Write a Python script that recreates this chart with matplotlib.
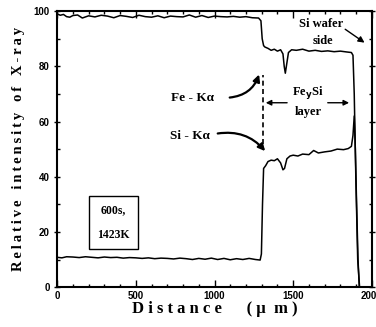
import matplotlib.pyplot as plt
from matplotlib.ticker import MultipleLocator

# Fe-Ka line profile
fe_dist = [0, 20, 40, 60, 80, 100, 130, 160, 200, 240, 280, 320, 360, 400, 440,
           480, 520, 560, 600, 640, 680, 720, 760, 800, 840, 880, 920, 960, 1000,
           1040, 1080, 1120, 1160, 1200, 1240, 1280, 1295, 1303, 1312, 1320, 1340,
           1360, 1380, 1400, 1420, 1435, 1443, 1450, 1458, 1470, 1490, 1520, 1560,
           1600, 1640, 1680, 1720, 1760, 1800, 1840, 1870, 1880, 1888, 1898, 1910,
           1922]
fe_val = [99.0, 98.5, 98.8, 98.0, 97.8, 98.4, 98.6, 97.5, 98.3, 97.9, 98.5, 98.2,
          97.6, 98.4, 98.1, 97.7, 98.5, 98.0, 97.8, 98.3, 97.6, 98.2, 98.0, 97.9,
          98.6, 97.8, 98.4, 97.7, 98.2, 98.0, 97.9, 98.1, 97.8, 98.0, 97.6, 97.5,
          96.5, 90.0, 87.5, 87.0, 86.5, 85.8, 86.2, 85.5, 86.0, 84.5, 80.0, 77.5,
          80.5, 85.0, 86.0, 85.8, 86.2, 85.5, 85.8, 85.4, 85.6, 85.3, 85.5, 85.2,
          85.0, 84.0, 70.0, 40.0, 10.0, 0.0]

# Si-Ka line profile
si_dist = [0, 30, 60, 100, 140, 180, 220, 260, 300, 340, 380, 420, 460, 500, 540,
           580, 620, 660, 700, 740, 780, 820, 860, 900, 940, 980, 1020, 1060, 1100,
           1140, 1180, 1220, 1260, 1290, 1298, 1305, 1312, 1325, 1340, 1360, 1380,
           1400, 1420, 1435, 1445, 1460, 1480, 1500, 1530, 1560, 1600, 1630, 1660,
           1700, 1740, 1780, 1820, 1850, 1870, 1880, 1888, 1895, 1903, 1912, 1920]
si_val = [10.8, 10.6, 11.0, 10.9, 10.7, 11.0, 10.8, 10.6, 10.9, 10.7, 10.8, 10.5,
          10.7, 10.6, 10.4, 10.6, 10.3, 10.5, 10.4, 10.2, 10.5, 10.3, 10.0, 10.4,
          10.1, 10.5, 10.0, 10.4, 9.9, 10.3, 10.0, 10.4, 10.0, 9.8, 12.0, 30.0,
          43.0, 44.0, 45.5, 46.0, 45.8, 46.5, 45.0, 42.5, 43.0, 46.5, 47.5, 47.8,
          47.5, 48.2, 48.0, 49.5, 48.6, 49.0, 49.3, 50.0, 49.8, 50.2, 51.0, 55.0,
          62.0, 50.0, 30.0, 10.0, 0.0]

x_ticks = [0, 500, 1000, 1500, 2000]
y_ticks = [0, 20, 40, 60, 80, 100]

bold_serif = {"family": "Liberation Serif", "weight": "bold"}


def spaced(text, gap="\u2009"):
    # letter-spaced label, wider gap between words
    return "   ".join(gap.join(word) for word in text.split(" "))


fig = plt.figure(figsize=(3.76, 3.27), dpi=100)
ax = fig.add_axes([0.152, 0.122, 0.837, 0.844])

ax.plot(fe_dist, fe_val, color="black", linewidth=1.1)
ax.plot(si_dist, si_val, color="black", linewidth=1.1)

ax.set_xlim(0, 2000)
ax.set_ylim(0, 100)
ax.set_xticks(x_ticks)
ax.set_yticks(y_ticks)
ax.xaxis.set_minor_locator(MultipleLocator(100))
ax.yaxis.set_minor_locator(MultipleLocator(10))
ax.tick_params(which="both", top=True, right=True, direction="in", width=1)
ax.tick_params(axis="y", which="major", left=True, direction="inout", length=6)
ax.tick_params(which="major", length=5, labelsize=7, pad=3)
ax.tick_params(which="minor", length=2.5)
for lab in ax.get_xticklabels() + ax.get_yticklabels():
    lab.set_fontfamily("Liberation Sans")
    lab.set_fontweight("bold")
for sp in ax.spines.values():
    sp.set_linewidth(1.5)

ax.set_xlabel("D i s t a n c e      ( \u03bc  m )", fontdict=bold_serif,
              fontsize=12, labelpad=0)
ax.set_ylabel(spaced("Relative intensity of X-ray"),
              fontdict=bold_serif, fontsize=10.5, labelpad=6)

# annotations
arrow_kw = dict(arrowstyle="-|>", color="black", lw=1.6, mutation_scale=10)
ax.annotate("", xy=(1289, 78), xytext=(1079, 68.6),
            arrowprops=dict(connectionstyle="arc3,rad=0.35", **arrow_kw))
ax.text(857, 68.6, "Fe - K\u03b1", ha="center", va="center", fontsize=9.5,
        **bold_serif)
ax.annotate("", xy=(1333, 48.5), xytext=(1003, 55.5),
            arrowprops=dict(connectionstyle="arc3,rad=-0.3", **arrow_kw))
ax.text(844, 54.7, "Si - K\u03b1", ha="center", va="center", fontsize=9.5,
        **bold_serif)

ax.plot([1308, 1308], [52, 77], color="black", linestyle=(0, (3, 2)), lw=1.2)
ax.annotate("", xy=(1308, 66.8), xytext=(1479, 66.8),
            arrowprops=dict(arrowstyle="-|>", color="black", lw=1.0,
                            mutation_scale=8))
ax.annotate("", xy=(1873, 66.8), xytext=(1702, 66.8),
            arrowprops=dict(arrowstyle="-|>", color="black", lw=1.0,
                            mutation_scale=8))
ax.text(1594, 70.4, "Fe$_\\mathbf{y}$Si", ha="center", va="center", fontsize=9,
        **bold_serif)
ax.text(1594, 63.5, "layer", ha="center", va="center", fontsize=9,
        **bold_serif)

ax.text(1680, 95.3, "Si wafer", ha="center", va="center", fontsize=9,
        **bold_serif)
ax.text(1689, 89.0, "side", ha="center", va="center", fontsize=9,
        **bold_serif)
ax.annotate("", xy=(1968, 88), xytext=(1816, 94),
            arrowprops=dict(arrowstyle="-|>", color="black", lw=1.0,
                            mutation_scale=9))

ax.text(356, 23.5, "600s,\n1423K", ha="center", va="center", fontsize=8.5,
        linespacing=2.4, **bold_serif,
        bbox=dict(boxstyle="square,pad=0.7", facecolor="white",
                  edgecolor="black", linewidth=1.0))

fig.savefig("out.png", dpi=100)
